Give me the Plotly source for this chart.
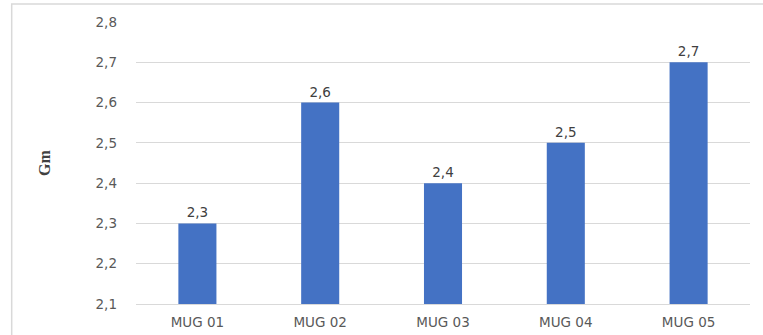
import plotly.graph_objects as go

categories = ["MUG 01", "MUG 02", "MUG 03", "MUG 04", "MUG 05"]
gm_values = [2.3, 2.6, 2.4, 2.5, 2.7]
y_ticks = [2.1, 2.2, 2.3, 2.4, 2.5, 2.6, 2.7, 2.8]

LABEL_FONT = "DejaVu Sans"

fig = go.Figure(
    go.Bar(
        x=categories,
        y=gm_values,
        base=0,
        marker=dict(color="#4472C4", line=dict(width=0)),
        width=0.31,
        text=[f"{v:.1f}".replace(".", ",") for v in gm_values],
        textposition="outside",
        cliponaxis=False,
        textfont=dict(family=LABEL_FONT, size=13.5, color="#404040"),
    )
)

W, H = 763, 335
L, R, T, B = 135.5, 12.5, 22, 31
pw, ph = W - L - R, H - T - B

# outer chart frame (right and bottom edges run past the page)
fig.add_shape(
    type="rect", xref="paper", yref="paper",
    x0=(11 - L) / pw, x1=(W + 5 - L) / pw,
    y0=-(B + 6) / ph, y1=(H - B - 4) / ph,
    line=dict(color="#D9D9D9", width=1.5), fillcolor="rgba(0,0,0,0)", layer="below",
)

fig.update_layout(
    width=W, height=H,
    margin=dict(l=L, r=R, t=T, b=B, pad=0, autoexpand=False),
    paper_bgcolor="white", plot_bgcolor="white",
    separators=", ",
    showlegend=False,
    xaxis=dict(
        showgrid=False, showline=True, linecolor="#D9D9D9", linewidth=1,
        ticks="", tickfont=dict(family=LABEL_FONT, size=13.5, color="#595959"),
        ticklabelstandoff=6, automargin=False,
        fixedrange=True,
    ),
    yaxis=dict(
        range=[2.1, 2.8], tickvals=y_ticks, tickformat=".1f",
        showgrid=True, gridcolor="#D9D9D9", gridwidth=1,
        zeroline=False, showline=False, ticks="", ticklen=0,
        tickfont=dict(family=LABEL_FONT, size=13.5, color="#595959"),
        ticklabelstandoff=18, automargin=False,
        title=dict(text="<b>Gm</b>", font=dict(family="Liberation Serif", size=16, color="#404040"), standoff=40),
    ),
)

fig.write_html("out.html")
